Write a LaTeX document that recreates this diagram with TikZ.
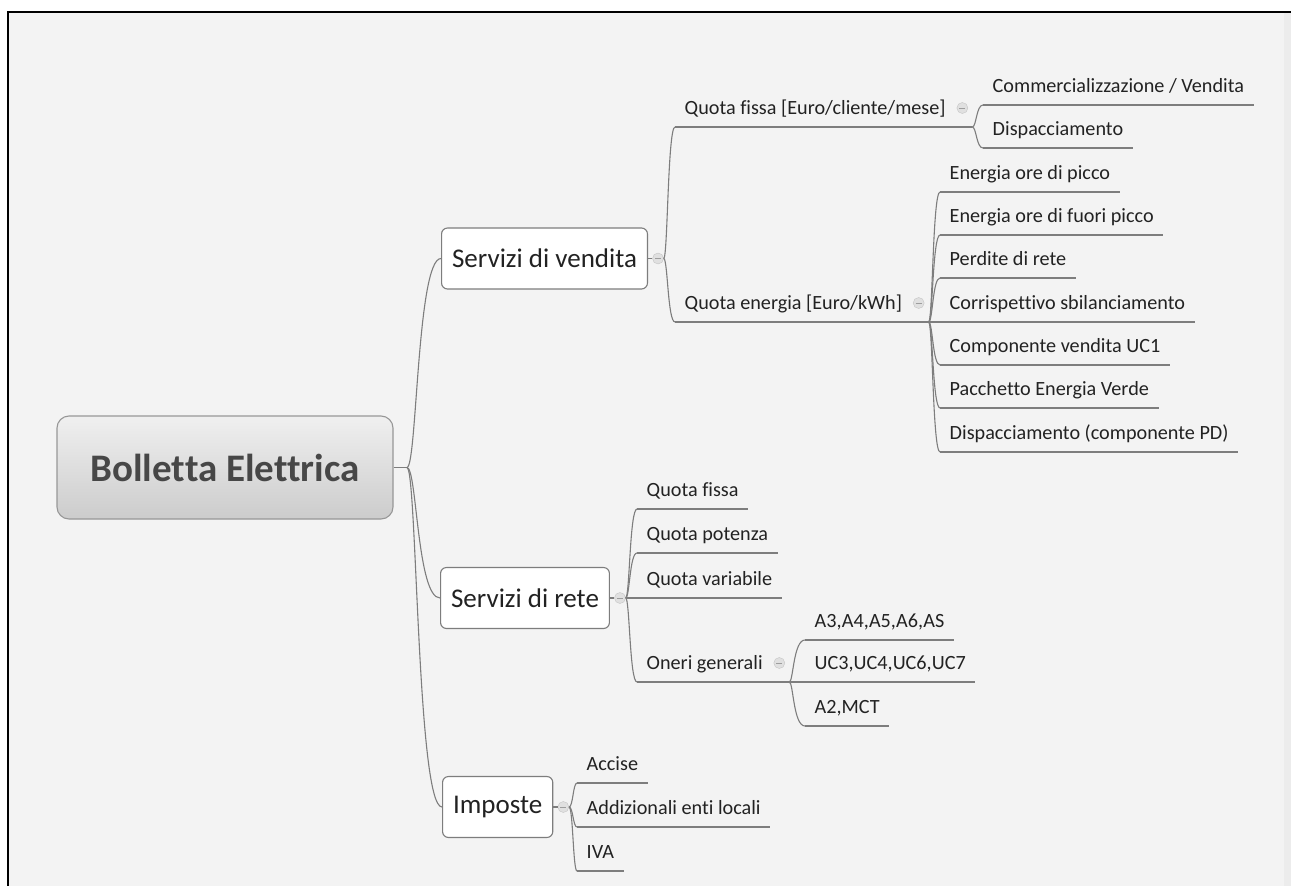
\documentclass[tikz,border=0pt]{standalone}
\usepackage{fontspec}
\setmainfont{Carlito}[Ligatures={NoCommon}]
\usetikzlibrary{positioning, calc}
\definecolor{sfondo}{RGB}{243,243,243}
\definecolor{linea}{RGB}{125,125,125}
\definecolor{testo}{RGB}{34,34,34}
\definecolor{bordo}{RGB}{125,125,125}
\definecolor{cerchio}{RGB}{224,224,224}
\definecolor{cbordo}{RGB}{196,196,196}

\tikzset{
  link/.style={draw=linea, line width=1.1pt},
  branch/.style={to path={.. controls ($(\tikztostart)+(#1,0)$) and ($(\tikztostart |- \tikztotarget)+(#1,0)$) .. (\tikztotarget)}},
  branch/.default=4,
  root/.style={draw=bordo!80, line width=1.1pt, rounded corners=12pt,
    top color=gray!12, bottom color=gray!40,
    minimum width=336pt, minimum height=103pt,
    font=\fontsize{39}{44}\selectfont\bfseries, text=black!72},
  ramo/.style={draw=bordo, fill=white, rounded corners=6pt, line width=1.1pt,
    minimum height=61pt, inner xsep=10.5pt, anchor=west,
    font=\fontsize{27}{32}\selectfont, text=testo},
  voce/.style={anchor=south west, inner xsep=9.5pt, inner ysep=0pt,
    text height=15pt, text depth=12.5pt,
    font=\fontsize{20.2}{24}\selectfont, text=testo},
  coll/.style={circle, draw=cbordo, fill=cerchio, minimum size=11pt, inner sep=0pt,
    path picture={\draw[cbordo!80!black, line width=0.8pt]
      ([xshift=-3pt]path picture bounding box.center) --
      ([xshift=3pt]path picture bounding box.center);}}
}

\begin{document}
\begin{tikzpicture}[x=1pt, y=-1pt]
  % sfondo e cornice
  \useasboundingbox (0,0) rectangle (1291,886);
  \fill[white] (0,0) rectangle (1291,886);
  \fill[sfondo] (8,12) rectangle (1291,886);
  \fill[sfondo!97!black] (1284,12) rectangle (1291,886);
  \draw[line width=2.5pt] (8,886) -- (8,12) -- (1291,12);

  % nodo centrale
  \node[root] (root) at (225,467.5) {Bolletta Elettrica};
  \coordinate (rt) at (407,467.5);
  \draw[link] (root.east) -- (rt);

  % primo livello
  \node[ramo] (sv) at (441,258.5) {Servizi di vendita};
  \node[ramo] (sr) at (440,598) {Servizi di rete};
  \node[ramo] (imp) at (442,807) {Imposte};
  \foreach \n in {sv,sr,imp} {
    \node[coll] (c-\n) at ([xshift=10pt]\n.east) {};
    \draw[link] (rt) to[branch=10] (\n.west);
    \draw[link] (\n.east) -- (c-\n.west);
  }

  % Servizi di vendita
  \node[voce] (qf) at (675,127) {Quota fissa [Euro/cliente/mese]};
  \node[voce] (qe) at (675,322) {Quota energia [Euro/kWh]};
  \foreach \n in {qf,qe} \draw[link] (c-sv.east) to[branch] (\n.south west);

  % Quota fissa
  \node[voce] (com) at (983,105) {Commercializzazione / Vendita};
  \node[voce] (dis) at (983,148) {Dispacciamento};

  % Quota energia
  \node[voce] (picco) at (940,192) {Energia ore di picco};
  \node[voce] (fuori) at (940,235) {Energia ore di fuori picco};
  \node[voce] (perd) at (940,278) {Perdite di rete};
  \node[voce] (sbil) at (940,322) {Corrispettivo sbilanciamento};
  \node[voce] (uc1) at (940,365) {Componente vendita UC1};
  \node[voce] (verde) at (940,408) {Pacchetto Energia Verde};
  \node[voce] (pd) at (940,452) {Dispacciamento (componente PD)};

  % Servizi di rete
  \node[voce] (rfis) at (637,509) {Quota fissa};
  \node[voce] (rpot) at (637,553) {Quota potenza};
  \node[voce] (rvar) at (637,598) {Quota variabile};
  \node[voce] (og) at (637,682) {Oneri generali};
  \foreach \n in {rfis,rpot,rvar,og} \draw[link] (c-sr.east) to[branch] (\n.south west);

  % Oneri generali
  \node[voce] (a3) at (805,640) {A3,A4,A5,A6,AS};
  \node[voce] (uc) at (805,682) {UC3,UC4,UC6,UC7};
  \node[voce] (a2) at (805,726) {A2,MCT};

  % Imposte
  \node[voce] (acc) at (577,783) {Accise};
  \node[voce] (add) at (577,827) {Addizionali enti locali};
  \node[voce] (iva) at (577,871) {IVA};
  \foreach \n in {acc,add,iva} \draw[link] (c-imp.east) to[branch] (\n.south west);

  % pulsanti e sottolineature dei nodi con figli
  \foreach \n in {qf,qe,og} {
    \node[coll] (c-\n) at ([shift={(7,-19)}]\n.south east) {};
    \coordinate (b-\n) at ($(c-\n.center |- \n.south)+(10,0)$);
    \draw[link] (\n.south west) -- (b-\n);
  }
  \foreach \n in {com,dis} \draw[link] (b-qf) to[branch] (\n.south west);
  \foreach \n in {picco,fuori,perd,sbil,uc1,verde,pd} \draw[link] (b-qe) to[branch] (\n.south west);
  \foreach \n in {a3,uc,a2} \draw[link] (b-og) to[branch] (\n.south west);

  % sottolineature delle foglie
  \foreach \n in {com,dis,picco,fuori,perd,sbil,uc1,verde,pd,rfis,rpot,rvar,a3,uc,a2,acc,add,iva}
    \draw[link] (\n.south west) -- (\n.south east);
\end{tikzpicture}
\end{document}
